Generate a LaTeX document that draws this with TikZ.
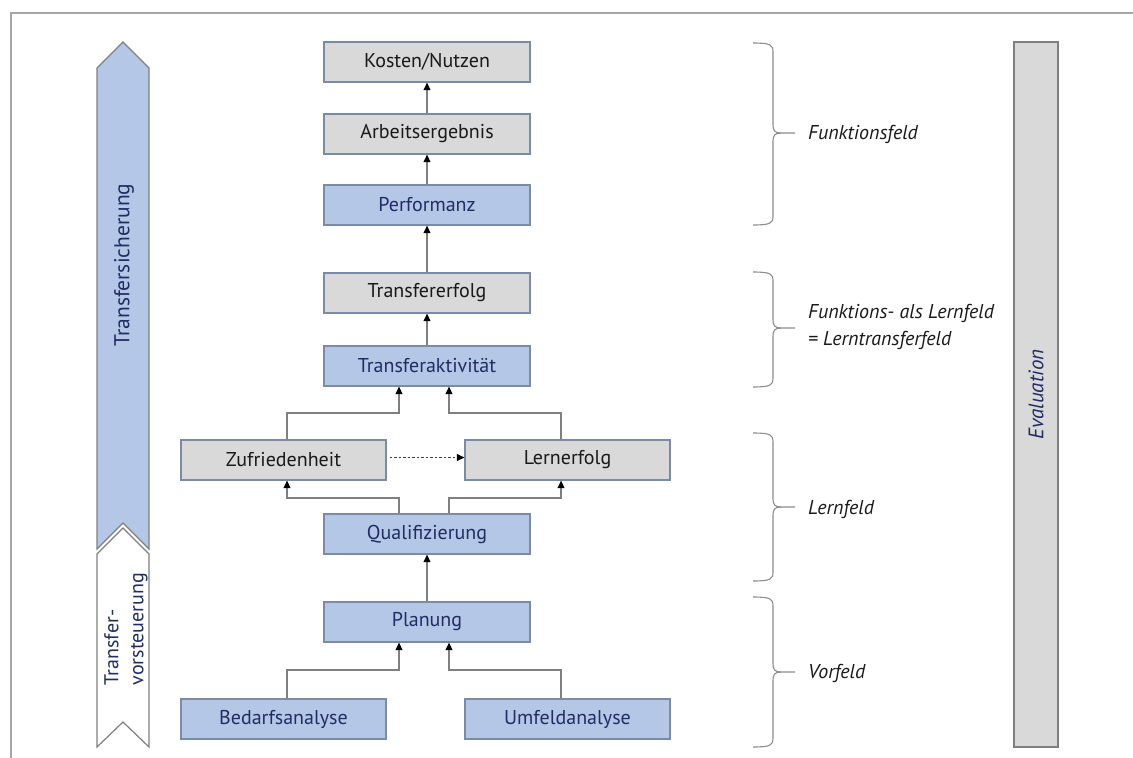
\documentclass[tikz,border=0pt]{standalone}
\usepackage{fontspec}
\setmainfont{PT Sans}
\usetikzlibrary{arrows.meta,calc}

\definecolor{bluefill}{HTML}{B4C7E7}
\definecolor{grayfill}{HTML}{D9D9D9}
\definecolor{boxline}{HTML}{7B8BA6}
\definecolor{navy}{HTML}{1F2D62}
\definecolor{connline}{HTML}{7F7F7F}
\definecolor{framecol}{HTML}{A6A6A6}
\definecolor{bracecol}{HTML}{8C8C8C}
\definecolor{shapeline}{HTML}{7F7F7F}

% curly brace: top, middle (beak), bottom
\newcommand\curlybrace[3]{%
  \draw[bracebar] (753,#1) .. controls (771,#1) and (773,#1+2) .. (773,#1+9)
    -- (773,#2-9) .. controls (773,#2-2) and (775,#2) .. (781,#2) -- (795,#2);
  \draw[bracebar] (753,#3) .. controls (771,#3) and (773,#3-2) .. (773,#3-9)
    -- (773,#2+9) .. controls (773,#2+2) and (775,#2) .. (781,#2);
}

\begin{document}
\begin{tikzpicture}[x=1pt,y=-1pt,
  boxbase/.style={draw=boxline, line width=1.3pt, minimum height=40pt,
    inner sep=0pt, font=\fontsize{20}{22}\selectfont},
  graybox/.style={boxbase, fill=grayfill, text=black!90, minimum width=206pt},
  bluebox/.style={boxbase, fill=bluefill, text=navy, minimum width=206pt},
  conn/.style={draw=connline, line width=1.3pt,
    -{Triangle[length=7.5pt,width=7pt,color=black]}},
  bracebar/.style={draw=bracecol, line width=1.1pt},
  fieldlabel/.style={anchor=west, inner sep=0pt, align=left,
    font=\fontsize{20}{27}\selectfont\itshape, text=black!90},
  sidetext/.style={rotate=90, text=navy, inner sep=0pt,
    font=\fontsize{20}{25}\selectfont},
]
\useasboundingbox (0,0) rectangle (1133,758);

% outer frame lines
\draw[framecol, line width=2pt] (10.5,758) -- (10.5,13) -- (1133,13);

% left phase arrows
\path[fill=bluefill, draw=shapeline, line width=1.2pt]
  (97,68) -- (123,42) -- (149,68) -- (149,549) -- (123,523) -- (97,549) -- cycle;
\path[fill=white, draw=shapeline, line width=1.2pt]
  (97,554) -- (123,528) -- (149,554) -- (149,747) -- (123,722) -- (97,747) -- cycle;
\node[sidetext, font=\fontsize{21.5}{25}\selectfont] (sich) at (124,265) {Transfersicherung};
\node[sidetext, align=left] (vorst) at (126,629) {Transfer-\\vorsteuerung};

% main column
\node[graybox] (kosten) at (427,62)  {Kosten/Nutzen};
\node[graybox] (arbeit) at (427,134) {Arbeitsergebnis};
\node[bluebox] (perf)   at (427,205) {Performanz};
\node[graybox] (terf)   at (427,293) {Transfererfolg};
\node[bluebox] (takt)   at (427,366) {Transferaktivität};
\node[graybox, minimum width=205pt] (zuf)  at (283.5,460) {Zufriedenheit};
\node[graybox, minimum width=205pt] (lern) at (567.5,460) {Lernerfolg};
\node[bluebox] (qual)   at (427,534) {Qualifizierung};
\node[bluebox] (plan)   at (427,622) {Planung};
\node[bluebox, minimum width=205pt] (bed) at (283.5,719) {Bedarfsanalyse};
\node[bluebox, minimum width=205pt] (umf) at (567.5,719) {Umfeldanalyse};

% straight connectors
\draw[conn] (arbeit.north) -- (kosten.south);
\draw[conn] (perf.north)   -- (arbeit.south);
\draw[conn] (terf.north)   -- (perf.south);
\draw[conn] (takt.north)   -- (terf.south);
\draw[conn] (plan.north)   -- (qual.south);

% elbow connectors
\coordinate (zufT) at ([xshift=3.5pt]zuf.north);
\coordinate (zufB) at ([xshift=3.5pt]zuf.south);
\coordinate (lernT) at ([xshift=-6.5pt]lern.north);
\coordinate (lernB) at ([xshift=-6.5pt]lern.south);
\coordinate (taktL) at ([xshift=-28pt]takt.south);
\coordinate (taktR) at ([xshift=22pt]takt.south);
\coordinate (qualL) at ([xshift=-28pt]qual.north);
\coordinate (qualR) at ([xshift=22pt]qual.north);
\coordinate (planL) at ([xshift=-28pt]plan.south);
\coordinate (planR) at ([xshift=22pt]plan.south);
\coordinate (bedT) at ([xshift=3.5pt]bed.north);
\coordinate (umfT) at ([xshift=-6.5pt]umf.north);
\coordinate (lvA) at (0,413);
\coordinate (lvB) at (0,498);
\coordinate (lvC) at (0,670);

\draw[conn] (zufT) -- (zufT |- lvA) -| (taktL);
\draw[conn] (lernT) -- (lernT |- lvA) -| (taktR);
\draw[conn] (qualL) -- (qualL |- lvB) -| (zufB);
\draw[conn] (qualR) -- (qualR |- lvB) -| (lernB);
\draw[conn] (bedT) -- (bedT |- lvC) -| (planL);
\draw[conn] (umfT) -- (umfT |- lvC) -| (planR);

% dashed link
\draw[draw=black!75, line width=0.9pt, dash pattern=on 2.5pt off 2pt,
  -{Triangle[length=7.5pt,width=7pt,color=black]}]
  ([xshift=3pt,yshift=2.5pt]zuf.east) -- ([yshift=2.5pt]lern.west);

% field braces and labels
\curlybrace{43}{133}{225}
\curlybrace{272}{328}{387}
\curlybrace{433}{507}{581}
\curlybrace{597}{672}{747}
\node[fieldlabel] (ff)  at (808,134) {Funktionsfeld};
\node[fieldlabel] (flf) at (808,327) {Funktions- als Lernfeld\\= Lerntransferfeld};
\node[fieldlabel] (lf)  at (808,509) {Lernfeld};
\node[fieldlabel] (vf)  at (808,673) {Vorfeld};

% evaluation bar
\node[draw=shapeline, line width=1.3pt, fill=grayfill, rotate=90,
  minimum width=705pt, minimum height=44pt, inner sep=0pt,
  text=navy, font=\fontsize{21}{22}\selectfont\itshape]
  (eval) at (1036,394.5) {Evaluation};
\end{tikzpicture}
\end{document}
